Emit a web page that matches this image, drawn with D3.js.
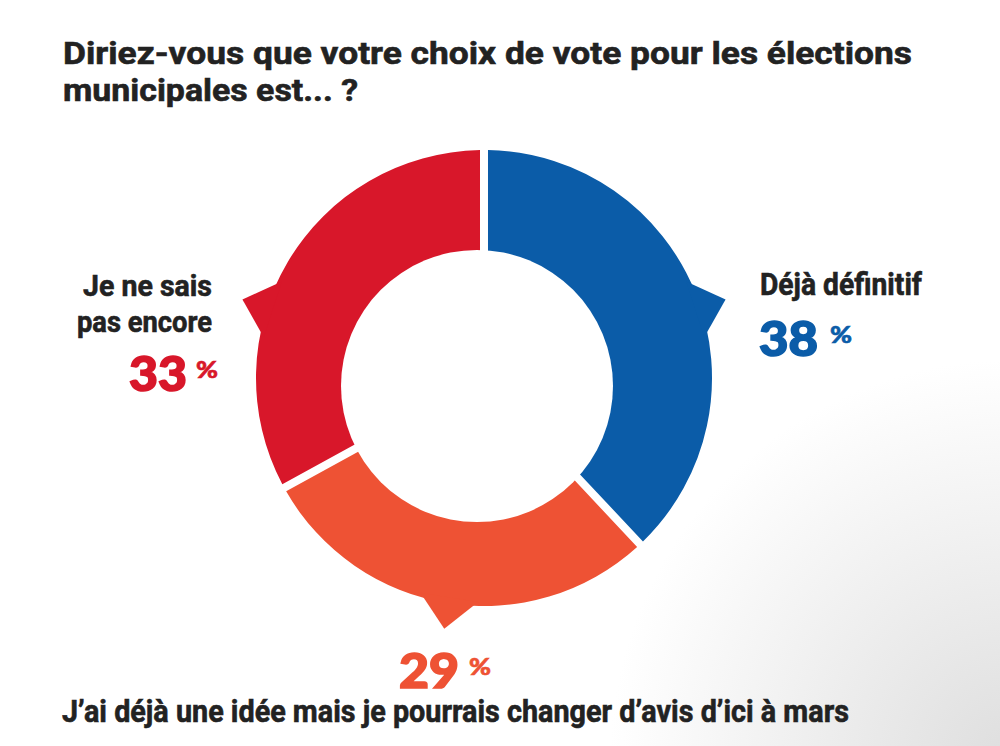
<!DOCTYPE html>
<html>
<head>
<meta charset="utf-8">
<script src="https://cdn.jsdelivr.net/npm/d3@7"></script>
<style>
    body { margin: 0; background: #fff; }
    #chart-area { width: 1000px; height: 746px; }
    .label { font-family: "Roboto", "Liberation Sans Narrow", sans-serif; font-weight: bold; fill: #222; stroke: #222; stroke-width: 0.6px; }
    .pct { font-family: "Lato", "Inter", sans-serif; font-weight: 900; stroke-width: 1.6px; }
</style>
</head>
<body>
<div id="chart-area"></div>
<script>

// data
let categories = ["Déjà définitif", "J’ai déjà une idée mais je pourrais changer d’avis d’ici à mars", "Je ne sais pas encore"];
let values = [38, 29, 33];
let titleLines = ["Diriez-vous que votre choix de vote pour les élections", "municipales est... ?"];

/* * * * * * * * * * * * * *
*          DonutVis        *
* * * * * * * * * * * * * */

class DonutVis {

    constructor(parentElement) {
        this.parentElement = parentElement;
        this.initVis();
    }

    initVis() {
        let vis = this;

        vis.width = 1000;
        vis.height = 746;
        vis.colors = ["#0b5ca8", "#d8172a", "#ee5234"];
        // slice order: blue, orange, red
        vis.colorOf = i => [vis.colors[0], vis.colors[2], vis.colors[1]][i];
        vis.pointerAngles = [72, 189, 288];

        vis.svg = d3.select("#" + vis.parentElement).append("svg")
            .attr("width", vis.width)
            .attr("height", vis.height);

        // faint grey shading in the bottom right corner
        let grad = vis.svg.append("defs").append("radialGradient")
            .attr("id", "corner")
            .attr("gradientUnits", "userSpaceOnUse")
            .attr("cx", 1010).attr("cy", 760).attr("r", 400);
        grad.append("stop").attr("offset", "0%").attr("stop-color", "#dedede");
        grad.append("stop").attr("offset", "100%").attr("stop-color", "#ffffff");
        vis.svg.append("rect")
            .attr("width", vis.width)
            .attr("height", vis.height)
            .attr("fill", "url(#corner)");

        vis.cx = 484;
        vis.cy = 378;
        vis.outer = 228;

        vis.pie = d3.pie().sort(null).value(d => d);
        vis.arc = d3.arc()
            .innerRadius(110)
            .outerRadius(vis.outer)
            .padAngle(0.08)
            .padRadius(100);

        let g = vis.svg.append("g")
            .attr("transform", "translate(" + vis.cx + "," + vis.cy + ")");

        let slices = vis.pie(values);

        g.selectAll("path.slice")
            .data(slices)
            .enter()
            .append("path")
            .attr("class", "slice")
            .attr("d", vis.arc)
            .attr("fill", (d, i) => vis.colorOf(i));

        // speech bubble pointers
        let toRad = a => a * Math.PI / 180;
        g.selectAll("path.pointer")
            .data(slices)
            .enter()
            .append("path")
            .attr("class", "pointer")
            .attr("d", (d, i) => {
                let a = vis.pointerAngles[i];
                let pts = [
                    d3.pointRadial(toRad(a - 7.5), vis.outer - 4),
                    d3.pointRadial(toRad(a), vis.outer + 26),
                    d3.pointRadial(toRad(a + 7.5), vis.outer - 4)
                ];
                return d3.line()(pts) + "Z";
            })
            .attr("fill", (d, i) => vis.colorOf(i));

        // the hole sits slightly lower-left than the outer ring
        vis.svg.append("circle")
            .attr("cx", 477)
            .attr("cy", 386)
            .attr("r", 136)
            .attr("fill", "#fff");

        // title
        vis.svg.selectAll("text.title")
            .data(titleLines)
            .enter()
            .append("text")
            .attr("class", "label title")
            .attr("x", 63)
            .attr("y", (d, i) => 64 + i * 37)
            .attr("font-size", 32)
            .attr("textLength", (d, i) => [849, 295][i])
            .attr("lengthAdjust", "spacingAndGlyphs")
            .text(d => d);

        // category labels
        vis.addText(categories[0], 760, 295, 31, 162, "label");
        vis.addText("Je ne sais", 83, 296, 30, 129, "label");
        vis.addText("pas encore", 77, 332, 30, 135, "label");
        vis.addText(categories[1], 62, 722, 31, 787, "label");

        // percentages
        vis.addPct(values[0], 759, 356, 59, 830, vis.colors[0]);
        vis.addPct(values[2], 129, 391, 58, 196, vis.colors[1]);
        vis.addPct(values[1], 399, 688, 60, 469, vis.colors[2]);
    }

    addText(txt, x, y, size, len, cls) {
        this.svg.append("text")
            .attr("class", cls)
            .attr("x", x)
            .attr("y", y)
            .attr("font-size", size)
            .attr("textLength", len)
            .attr("lengthAdjust", "spacingAndGlyphs")
            .text(txt);
    }

    addPct(v, x, y, len, px, color) {
        this.svg.append("text")
            .attr("class", "pct")
            .attr("x", x)
            .attr("y", y)
            .attr("font-size", 47)
            .attr("textLength", len)
            .attr("lengthAdjust", "spacingAndGlyphs")
            .attr("fill", color)
            .attr("stroke", color)
            .text(v);
        this.svg.append("text")
            .attr("class", "pct")
            .attr("x", px)
            .attr("y", y - 13)
            .attr("font-size", 23)
            .attr("textLength", 22)
            .attr("lengthAdjust", "spacingAndGlyphs")
            .attr("fill", color)
            .attr("stroke", color)
            .style("stroke-width", "0.6px")
            .text("%");
    }
}

new DonutVis("chart-area");

</script>
</body>
</html>
